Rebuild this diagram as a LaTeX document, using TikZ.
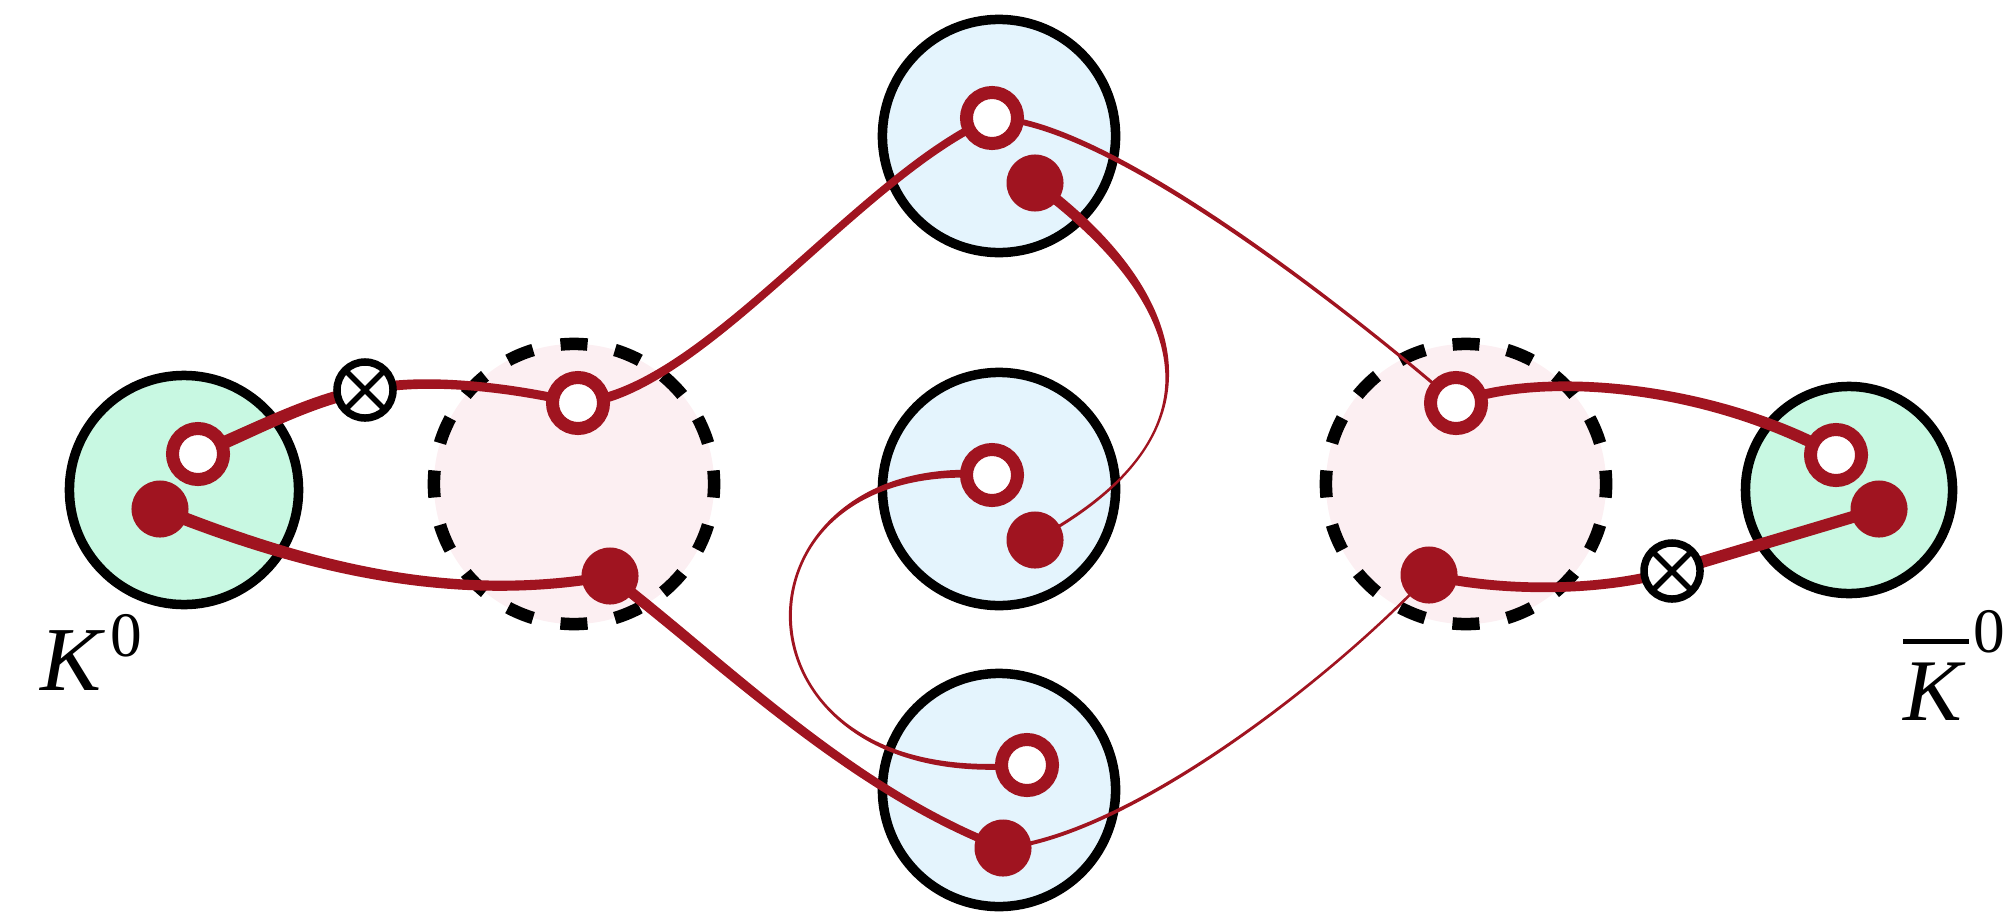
\documentclass[tikz,border=0pt]{standalone}
\usepackage{fontspec}
\setmainfont{Liberation Serif}
\usetikzlibrary{calc}
\definecolor{qred}{RGB}{160,20,32}
\definecolor{kgreen}{RGB}{200,248,226}
\definecolor{mblue}{RGB}{228,244,253}
\definecolor{dpink}{RGB}{252,239,242}
% tapered quark line: start, control1, control2, end, half width at start, half width at end
\newcommand\quarkline[6]{%
  \coordinate (ql0) at ($(#1)!#5!90:(#2)$);
  \coordinate (qr0) at ($(#1)!#5!-90:(#2)$);
  \coordinate (ql3) at ($(#4)!#6!-90:(#3)$);
  \coordinate (qr3) at ($(#4)!#6!90:(#3)$);
  \fill[qred] (ql0) .. controls ($(#2)+(ql0)-(#1)$) and ($(#3)+(ql3)-(#4)$) .. (ql3)
     -- (qr3) .. controls ($(#3)+(qr3)-(#4)$) and ($(#2)+(qr0)-(#1)$) .. (qr0) -- cycle;
}
\begin{document}
\begin{tikzpicture}[x=0.01cm, y=-0.01cm,
  every node/.style={outer sep=0pt},
  bigcirc/.style={circle, draw=black, line width=0.095cm, minimum size=#1, inner sep=0pt},
  kaon/.style={bigcirc=#1, fill=kgreen},
  meson/.style={bigcirc=2.33cm, fill=mblue},
  cloud/.style={circle, fill=dpink, draw=black, line width=0.125cm,
    dash pattern=on 0.27cm off 0.2798cm, dash phase=0.135cm, minimum size=2.80cm, inner sep=0pt},
  antiq/.style={circle, draw=qred, fill=white, line width=0.13cm, minimum size=0.51cm, inner sep=0pt},
  quark/.style={circle, fill=qred, minimum size=0.57cm, inner sep=0pt},
  vertexx/.style={circle, draw=black, fill=white, line width=0.075cm, minimum size=0.56cm, inner sep=0pt,
    path picture={\draw[line width=0.055cm]
      (path picture bounding box.north west) -- (path picture bounding box.south east)
      (path picture bounding box.north east) -- (path picture bounding box.south west);}},
  lbl/.style={anchor=base west, inner sep=0pt}
]
\useasboundingbox (0,0) rectangle (2013,918);

% hadron blobs
\node[kaon=2.29cm] (K) at (184,490) {};
\node[kaon=2.07cm] (Kb) at (1849,490) {};
\node[cloud] (L) at (574,484) {};
\node[cloud] (R) at (1466,484) {};
\node[meson] (M1) at (999,136) {};
\node[meson] (M2) at (999,489) {};
\node[meson] (M3) at (999,790) {};

% quark positions
\coordinate (k0o) at (198,454);
\coordinate (k0f) at (160,509);
\coordinate (x1c) at (365,390);
\coordinate (ldo) at (578,403);
\coordinate (ldf) at (610,576);
\coordinate (topo) at (992,118);
\coordinate (topf) at (1035,183);
\coordinate (mido) at (992,475);
\coordinate (midf) at (1035,540);
\coordinate (boto) at (1027,765);
\coordinate (botf) at (1003,848);
\coordinate (rdo) at (1456,403);
\coordinate (rdf) at (1429,575);
\coordinate (x2c) at (1672,571);
\coordinate (rko) at (1836,455);
\coordinate (rkf) at (1879,509);
\coordinate (loopleft) at (790.5,621.9);

% quark lines
\quarkline{k0o}{255,430}{310,400}{x1c}{0.065cm}{0.06cm}
\quarkline{x1c}{420,378}{500,385}{ldo}{0.05cm}{0.045cm}
\quarkline{k0f}{300,565}{450,605}{ldf}{0.065cm}{0.05cm}
\quarkline{ldo}{700,395}{860,175}{topo}{0.05cm}{0.04cm}
\quarkline{ldf}{720,660}{850,790}{botf}{0.055cm}{0.04cm}
\quarkline{topf}{1180,290}{1240,430}{midf}{0.055cm}{0.015cm}
\quarkline{mido}{856,462.5}{786.75,542.5}{loopleft}{0.04cm}{0.015cm}
\quarkline{loopleft}{794.25,701.25}{871,780}{boto}{0.015cm}{0.03cm}
\quarkline{topo}{1110,120}{1360,320}{rdo}{0.03cm}{0.015cm}
\quarkline{botf}{1130,835}{1330,680}{rdf}{0.02cm}{0.0125cm}
\quarkline{rdo}{1540,370}{1710,385}{rko}{0.05cm}{0.06cm}
\quarkline{rdf}{1500,592}{1600,592}{x2c}{0.05cm}{0.05cm}
\quarkline{x2c}{1741,550}{1810,530}{rkf}{0.06cm}{0.06cm}

% quarks and antiquarks
\node[antiq] (q1) at (k0o) {};
\node[quark] (q2) at (k0f) {};
\node[antiq] (q3) at (ldo) {};
\node[quark] (q4) at (ldf) {};
\node[antiq] (q5) at (topo) {};
\node[quark] (q6) at (topf) {};
\node[antiq] (q7) at (mido) {};
\node[quark] (q8) at (midf) {};
\node[antiq] (q9) at (boto) {};
\node[quark] (q10) at (botf) {};
\node[antiq] (q11) at (rdo) {};
\node[quark] (q12) at (rdf) {};
\node[antiq] (q13) at (rko) {};
\node[quark] (q14) at (rkf) {};

% weak vertices
\node[vertexx] (X1) at (x1c) {};
\node[vertexx] (X2) at (x2c) {};

% labels
\node[lbl] (lk) at (40,690) {\fontsize{26}{30}\selectfont\itshape K\hspace{0.1cm}\raisebox{0.33cm}{\fontsize{18}{20}\selectfont\upshape 0}};
\node[lbl] (rk) at (1903,720) {\fontsize{25}{28}\selectfont\itshape\rlap{\rule[0.755cm]{0.66cm}{0.05cm}}K\hspace{0.12cm}\raisebox{0.67cm}{\fontsize{18}{20}\selectfont\upshape 0}};
\end{tikzpicture}
\end{document}
